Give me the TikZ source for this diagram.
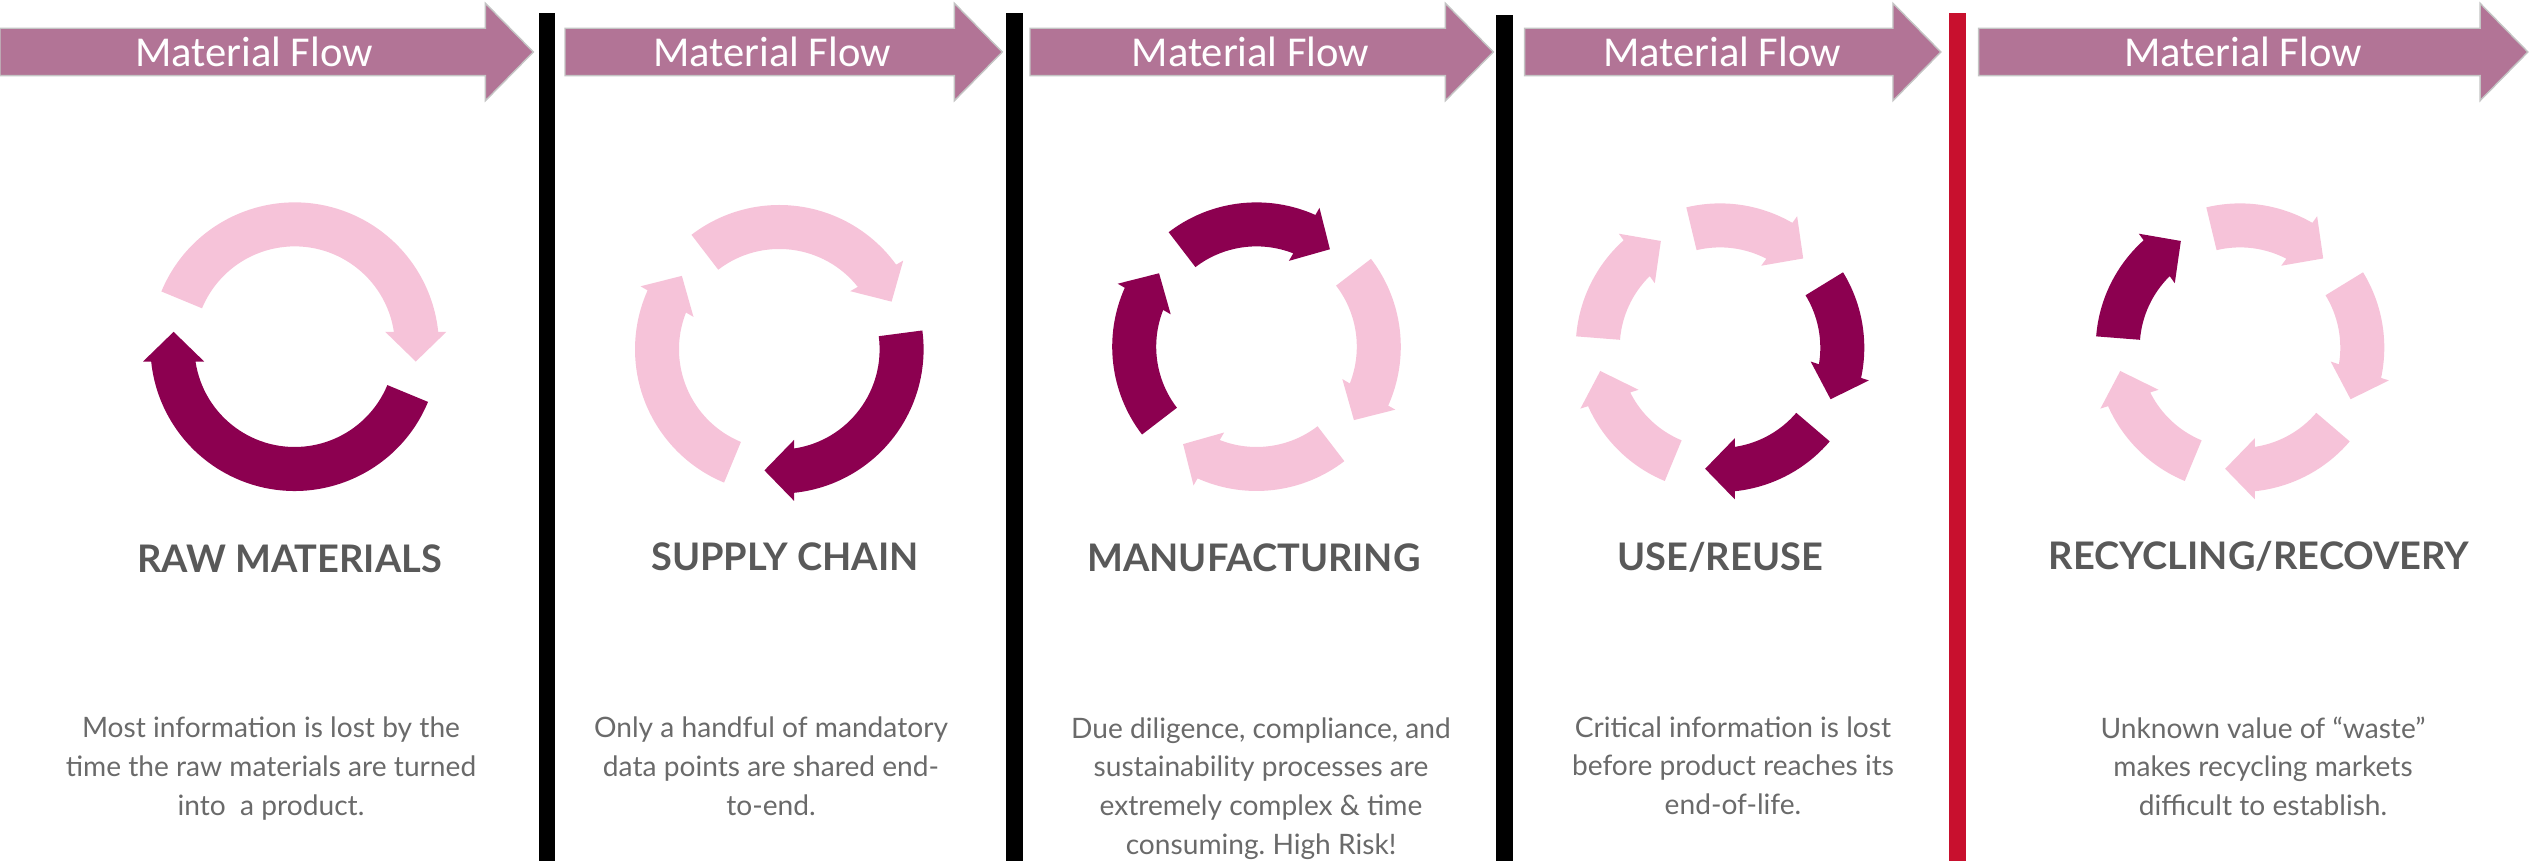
\documentclass[tikz,border=0pt]{standalone}
\usepackage{fontspec}
\setmainfont{Lato}
\newfontfamily\flowfont{Carlito}
\usepackage{xcolor}
\usetikzlibrary{
    calc,
    positioning,
    shapes.arrows,
}

\definecolor{flowpink}{HTML}{B27496}
\definecolor{flowedge}{HTML}{C4C4C4}
\definecolor{cyclelight}{HTML}{F6C3D9}
\definecolor{cycledark}{HTML}{8C0050}
\definecolor{barred}{HTML}{C8102E}
\definecolor{textgray}{HTML}{595959}

\frenchspacing

% colour, tail angle, head angle
\newcommand{\cyclearrow}[3]{%
    \fill[#1] (#2:144.3) arc[start angle=#2, end angle=#3-1.1, radius=144.3]
        -- ($(#3:122)+(#3-7:30.6)$) -- (#3-14:122) -- ($(#3:122)-(#3-7:30.6)$)
        -- (#3+1.5:100.3) arc[start angle=#3+1.5, end angle=#2, radius=100.3] -- cycle;
}

\begin{document}
\begin{tikzpicture}[
        x=0.01cm, y=0.01cm,
        flowarrow/.style={
            single arrow, draw=flowedge, fill=flowpink, line width=0.4pt,
            anchor=tail, inner xsep=0pt, inner ysep=0.23cm, outer sep=0pt, minimum width=0.96cm,
            single arrow head extend=0.25cm, single arrow tip angle=91
        },
        flowtext/.style={font=\flowfont\fontsize{12.1}{15}\selectfont, text=white, inner sep=0pt},
        steptitle/.style={
            font=\bfseries\fontsize{10.8}{13}\selectfont, text=textgray, inner sep=0pt,
            text height=8pt, text depth=0pt
        },
        steptext/.style={
            font=\fontsize{8}{11}\selectfont, text=textgray!90, inner sep=0pt,
            align=center
        },
    ]

    \useasboundingbox (0,0) rectangle (2529,861);

    % ── Separator bars ──
    \fill[black] (539,0) rectangle (555,847.7);
    \fill[black] (1006,0) rectangle (1022.5,847.7);
    \fill[black] (1496,0) rectangle (1512.5,845.7);
    \fill[barred] (1949,0) rectangle (1965.5,847.7);

    % ── Flow arrows ──
    \node[flowarrow, minimum height=5.33cm] (flowraw) at (0,809) {};
    \node[flowarrow, minimum height=4.37cm] (flowsupply) at (565,809) {};
    \node[flowarrow, minimum height=4.63cm] (flowmanu) at (1030,809) {};
    \node[flowarrow, minimum height=4.16cm] (flowuse) at (1524.6,809) {};
    \node[flowarrow, minimum height=5.49cm] (flowrecycle) at (1978.6,809) {};

    \node[flowtext] (flowrawtext) at (254,809) {Material Flow};
    \node[flowtext] (flowsupplytext) at (772,809) {Material Flow};
    \node[flowtext] (flowmanutext) at (1250.5,809) {Material Flow};
    \node[flowtext] (flowusetext) at (1722,809) {Material Flow};
    \node[flowtext] (flowrecycletext) at (2243,809) {Material Flow};

    % ── Raw materials ──
    \coordinate (rawcycle) at (294.7,514.3);
    \begin{scope}[shift={(rawcycle)}]
        \cyclearrow{cyclelight}{157.5}{7}
        \cyclearrow{cycledark}{-22.5}{-173}
    \end{scope}
    \node[steptitle] (rawtitle) at (289.5,302.3) {RAW MATERIALS};
    \node[steptext, below=1.43cm of rawtitle, xshift=-0.185cm] (rawtext)
        {Most information is lost by the\\time the raw materials are turned\\into\ \ a product.};

    % ── Supply chain ──
    \coordinate (supplycycle) at (779.3,511.7);
    \begin{scope}[shift={(supplycycle)}]
        \cyclearrow{cyclelight}{127.5}{37}
        \cyclearrow{cycledark}{7.5}{-83}
        \cyclearrow{cyclelight}{247.5}{157}
    \end{scope}
    \node[steptitle] (supplytitle) at (785,304.3) {SUPPLY CHAIN};
    \node[steptext, below=1.45cm of supplytitle, xshift=-0.14cm] (supplytext)
        {Only a handful of mandatory\\data points are shared end-\\to-end.};

    % ── Manufacturing ──
    \coordinate (manucycle) at (1256.5,514.3);
    \begin{scope}[shift={(manucycle)}]
        \cyclearrow{cycledark}{127.5}{67}
        \cyclearrow{cyclelight}{37.5}{-23}
        \cyclearrow{cyclelight}{-52.5}{-113}
        \cyclearrow{cycledark}{217.5}{157}
    \end{scope}
    \node[steptitle] (manutitle) at (1254,304) {MANUFACTURING};
    \node[steptext, below=1.45cm of manutitle, xshift=0.07cm] (manutext)
        {Due diligence, compliance, and\\sustainability processes are\\extremely complex \& time\\consuming. High Risk!};

    % ── Use/reuse ──
    \coordinate (usecycle) at (1720,513.3);
    \begin{scope}[shift={(usecycle)}]
        \cyclearrow{cyclelight}{103.5}{61}
        \cyclearrow{cycledark}{31.5}{-11}
        \cyclearrow{cycledark}{-40.5}{-83}
        \cyclearrow{cyclelight}{-112.5}{-155}
        \cyclearrow{cyclelight}{175.5}{133}
    \end{scope}
    \node[steptitle] (usetitle) at (1720,305) {USE/REUSE};
    \node[steptext, below=1.45cm of usetitle, xshift=0.13cm] (usetext)
        {Critical information is lost\\before product reaches its\\end-of-life.};

    % ── Recycling/recovery ──
    \coordinate (recyclecycle) at (2240,513.3);
    \begin{scope}[shift={(recyclecycle)}]
        \cyclearrow{cyclelight}{103.5}{61}
        \cyclearrow{cyclelight}{31.5}{-11}
        \cyclearrow{cyclelight}{-40.5}{-83}
        \cyclearrow{cyclelight}{-112.5}{-155}
        \cyclearrow{cycledark}{175.5}{133}
    \end{scope}
    \node[steptitle] (recycletitle) at (2259,306) {RECYCLING/RECOVERY};
    \node[steptext, below=1.46cm of recycletitle, xshift=0.04cm] (recycletext)
        {Unknown value of “waste”\\makes recycling markets\\difficult to establish.};

\end{tikzpicture}
\end{document}
